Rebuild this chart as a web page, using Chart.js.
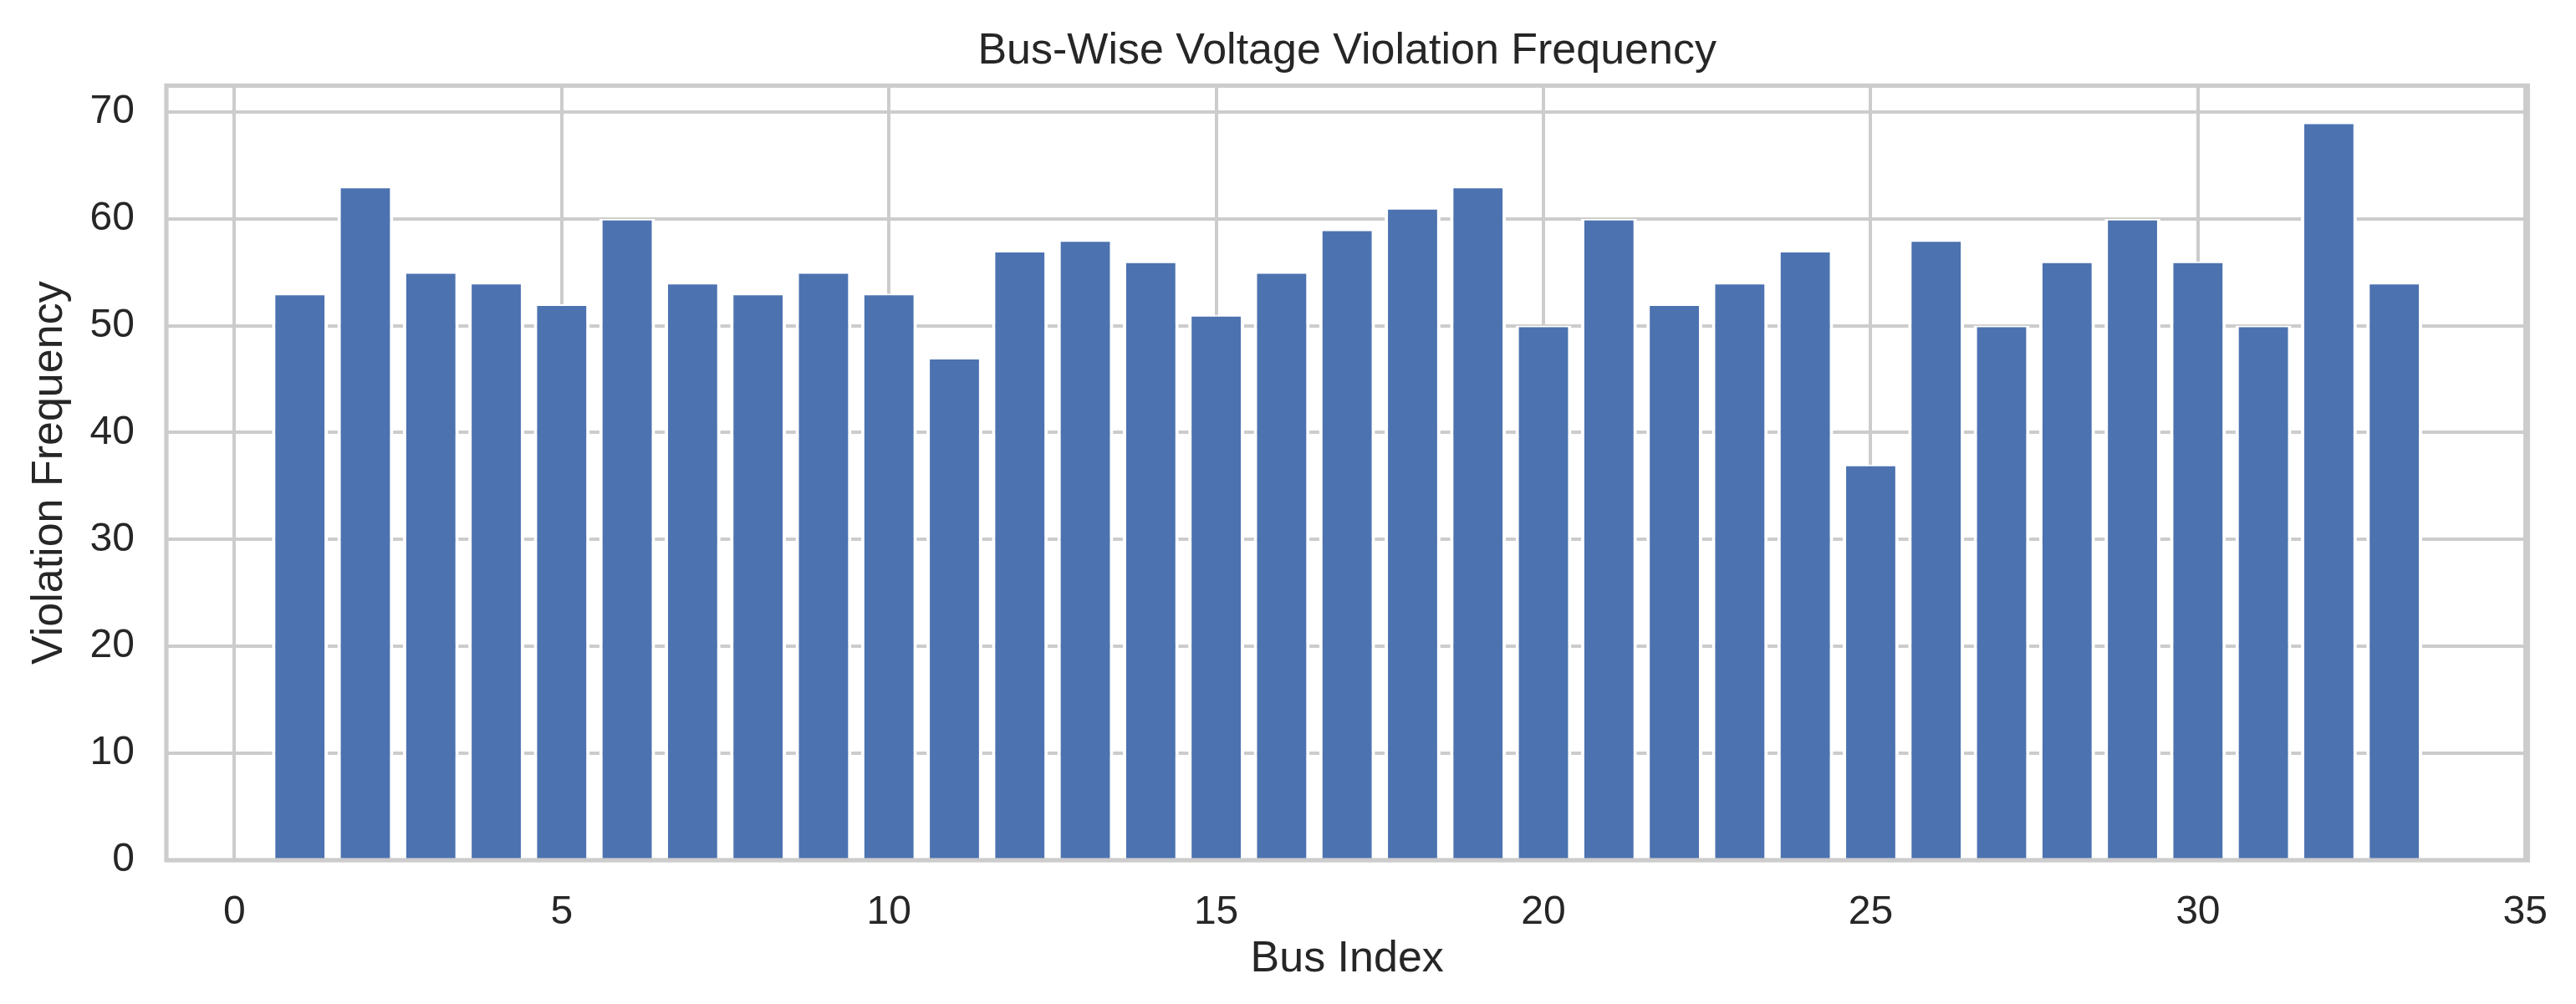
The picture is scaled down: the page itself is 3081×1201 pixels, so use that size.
<!DOCTYPE html>
<html>
<head>
<meta charset="utf-8">
<title>Bus-Wise Voltage Violation Frequency</title>
<script src="https://cdn.jsdelivr.net/npm/chart.js@4.4.1/dist/chart.umd.min.js"></script>
<style>
  html, body { margin: 0; padding: 0; background: #ffffff; }
  canvas { display: block; }
</style>
</head>
<body>
<canvas id="chart" width="3081" height="1201"></canvas>
<script>
// dados
const busIndex = [1, 2, 3, 4, 5, 6, 7, 8, 9, 10, 11, 12, 13, 14, 15, 16, 17,
                  18, 19, 20, 21, 22, 23, 24, 25, 26, 27, 28, 29, 30, 31, 32, 33];
const violationFreq = [53, 63, 55, 54, 52, 60, 54, 53, 55, 53, 47, 57, 58, 56, 51, 55, 59,
                       61, 63, 50, 60, 52, 54, 57, 37, 58, 50, 56, 60, 56, 50, 69, 54];
const xTicks = [0, 5, 10, 15, 20, 25, 30, 35];
const yTicks = [0, 10, 20, 30, 40, 50, 60, 70];

const TEXT = '#262626';
const GRID = '#cccccc';
const FONT = '"Liberation Sans", Arial, sans-serif';

// moldura (4 lados) como no estilo whitegrid
const framePlugin = {
    id: 'frame',
    afterDatasetsDraw(chart) {
        const a = chart.chartArea;
        const ctx = chart.ctx;
        ctx.save();
        ctx.strokeStyle = GRID;
        ctx.lineWidth = 5.2;
        ctx.strokeRect(a.left, a.top, a.right - a.left, a.bottom - a.top);
        ctx.restore();
    }
};

new Chart(document.getElementById('chart'), {
    type: 'bar',
    data: {
        datasets: [{
            label: 'Violation Frequency',
            data: busIndex.map((b, i) => ({ x: b, y: violationFreq[i] })),
            backgroundColor: '#4c72b0',
            borderColor: '#ffffff',
            borderWidth: { left: 4, right: 4, top: 2, bottom: 0 },
            barPercentage: 0.853,
            categoryPercentage: 1.0
        }]
    },
    options: {
        responsive: false,
        animation: false,
        devicePixelRatio: 1,
        layout: { padding: { left: 0, right: 49, top: 0, bottom: 0 } },
        plugins: {
            legend: { display: false },
            tooltip: { enabled: false },
            title: {
                display: true,
                fullSize: false,   // centraliza sobre a área do gráfico
                text: 'Bus-Wise Voltage Violation Frequency',
                color: TEXT,
                font: { family: FONT, size: 52, weight: 'normal' },
                padding: { top: 30, bottom: 10 }
            }
        },
        scales: {
            x: {
                type: 'linear',
                min: -1.04,
                max: 35.04,
                offset: false,
                afterBuildTicks: s => { s.ticks = xTicks.map(v => ({ value: v })); },
                afterFit: s => { s.height = 172; },
                grid: { color: GRID, lineWidth: 4, drawTicks: false, offset: false },
                border: { display: false },
                ticks: {
                    color: TEXT,
                    padding: 34,
                    maxRotation: 0,
                    font: { family: FONT, size: 48 }
                },
                title: {
                    display: true,
                    text: 'Bus Index',
                    color: TEXT,
                    font: { family: FONT, size: 52 },
                    padding: { top: 0, bottom: 22 }
                }
            },
            y: {
                min: 0,
                max: 72.45,
                afterBuildTicks: s => { s.ticks = yTicks.map(v => ({ value: v })); },
                afterFit: s => { s.width = 199; },
                grid: { color: GRID, lineWidth: 4, drawTicks: false },
                border: { display: false },
                ticks: {
                    color: TEXT,
                    padding: 38,
                    font: { family: FONT, size: 48 }
                },
                title: {
                    display: true,
                    text: 'Violation Frequency',
                    color: TEXT,
                    font: { family: FONT, size: 52 },
                    padding: { top: 28, bottom: 0 }
                }
            }
        }
    },
    plugins: [framePlugin]
});
</script>
</body>
</html>
